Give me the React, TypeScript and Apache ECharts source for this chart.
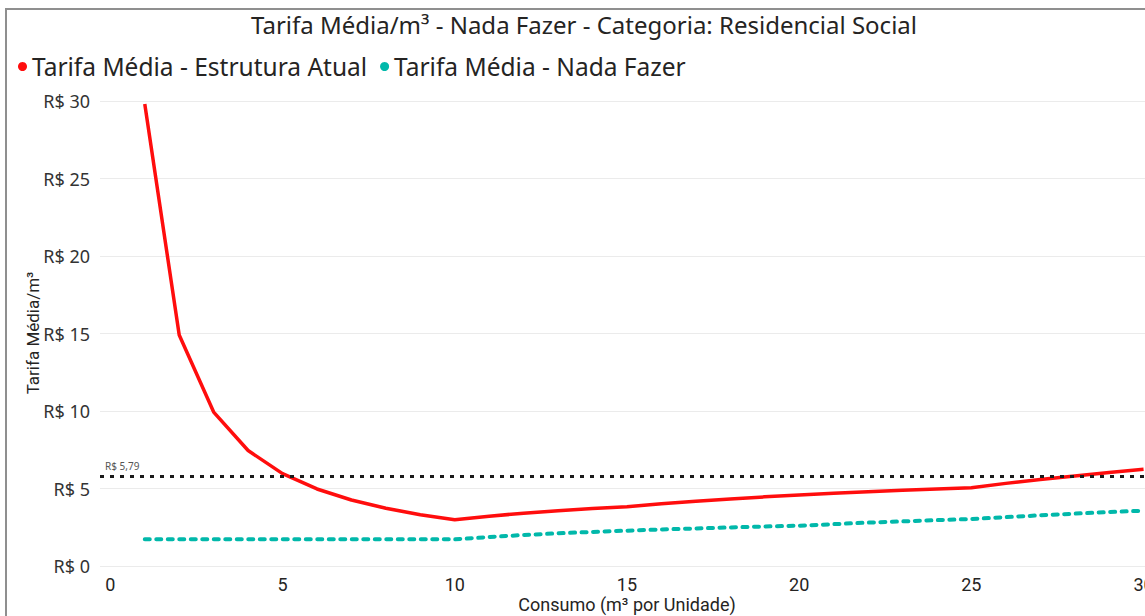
import React, { useEffect, useRef } from "react";
import * as echarts from "echarts";

const consumo = [1, 2, 3, 4, 5, 6, 7, 8, 9, 10, 11, 12, 13, 14, 15, 16, 17, 18, 19, 20, 21, 22, 23, 24, 25, 26, 27, 28, 29, 30];
const estruturaAtual = [29.8, 14.9, 9.93, 7.45, 5.96, 4.97, 4.26, 3.73, 3.31, 2.98, 3.21, 3.41, 3.57, 3.71, 3.83, 4.02, 4.18, 4.33, 4.46, 4.58, 4.69, 4.79, 4.88, 4.97, 5.05, 5.33, 5.58, 5.81, 6.03, 6.24];
const nadaFazer = [1.72, 1.72, 1.72, 1.72, 1.72, 1.72, 1.72, 1.72, 1.72, 1.72, 1.87, 2.0, 2.11, 2.2, 2.28, 2.36, 2.42, 2.49, 2.55, 2.6, 2.7, 2.8, 2.88, 2.96, 3.03, 3.15, 3.27, 3.38, 3.48, 3.57];
const referencia = 5.79;
const seriesNames = ["Tarifa Média - Estrutura Atual", "Tarifa Média - Nada Fazer"];
const titulo = "Tarifa Média/m³ - Nada Fazer - Categoria: Residencial Social";
const nomeEixoX = "Consumo (m³ por Unidade)";
const nomeEixoY = "Tarifa Média/m³";

export default function App() {
  const ref = useRef<HTMLDivElement>(null);
  useEffect(() => {
    const chart = echarts.init(ref.current!, null, { renderer: "svg" });
    chart.setOption({
      animation: false,
      backgroundColor: "#ffffff",
      grid: { left: 100, top: 101, bottom: 50, right: 22, containLabel: false },
      legend: {
        left: 18,
        top: 54,
        padding: 0,
        icon: "circle",
        itemWidth: 9,
        itemHeight: 9,
        itemGap: 13,
        textStyle: { fontSize: 24.5, fontFamily: "Noto Sans", color: "#252423" },
        data: seriesNames,
      },
      xAxis: {
        type: "value",
        min: -0.3,
        max: 31,
        splitNumber: 6,
        axisLine: { show: false },
        axisTick: { show: false },
        splitLine: { show: false },
        axisLabel: {
          showMinLabel: false,
          showMaxLabel: false,
          formatter: (v: number) => (Math.abs(v % 5) < 1e-9 ? String(v) : ""),
          fontSize: 18,
          fontFamily: "Roboto",
          color: "#252423",
          margin: 9,
        },
      },
      yAxis: {
        type: "value",
        min: 0,
        max: 30,
        interval: 5,
        axisLine: { show: false },
        axisTick: { show: false },
        splitLine: { lineStyle: { color: "#ebebeb", width: 1 } },
        axisLabel: {
          formatter: (v: number) => "R$ " + v,
          fontSize: 18,
          fontFamily: "Noto Sans",
          color: "#333333",
          margin: 10,
        },
      },
      series: [
        {
          name: seriesNames[0],
          type: "line",
          data: consumo.map((x, i) => [x, estruturaAtual[i]]),
          symbol: "none",
          itemStyle: { color: "#FF0D0D" },
          lineStyle: { color: "#FF0D0D", width: 3.5 },
          z: 3,
          markLine: {
            silent: true,
            symbol: "none",
            data: [{ yAxis: referencia }],
            lineStyle: { color: "#1a1a1a", width: 3, type: [4, 6] },
            label: {
              position: "insideStartTop",
              formatter: (p: any) => "R$ " + Number(p.value).toFixed(2).replace(".", ","),
              fontSize: 10,
              fontFamily: "Noto Sans",
              color: "#555555",
            },
          },
        },
        {
          name: seriesNames[1],
          type: "line",
          data: consumo.map((x, i) => [x, nadaFazer[i]]),
          symbol: "none",
          itemStyle: { color: "#01B8AA" },
          lineStyle: { color: "#01B8AA", width: 4, type: [5, 6.5], cap: "round" },
          z: 2,
        },
      ],
      graphic: [
        {
          type: "rect",
          silent: true,
          z: 100,
          shape: { x: 6, y: 9, width: 1400, height: 900 },
          style: { fill: "none", stroke: "#8f8f8f", lineWidth: 2 },
        },
        {
          type: "text",
          x: 584,
          y: 24,
          style: {
            text: titulo,
            fontSize: 24,
            fontFamily: "Noto Sans",
            fill: "#252423",
            align: "center",
            verticalAlign: "middle",
            textAlign: "center",
            textVerticalAlign: "middle",
          },
        },
        {
          type: "text",
          x: 627,
          y: 604,
          style: {
            text: nomeEixoX,
            fontSize: 18,
            fontFamily: "Roboto",
            fill: "#252423",
            align: "center",
            verticalAlign: "middle",
            textAlign: "center",
            textVerticalAlign: "middle",
          },
        },
        {
          type: "text",
          x: 33,
          y: 333,
          rotation: Math.PI / 2,
          style: {
            text: nomeEixoY,
            fontSize: 17,
            fontFamily: "Roboto",
            fill: "#252423",
            align: "center",
            verticalAlign: "middle",
            textAlign: "center",
            textVerticalAlign: "middle",
          },
        },
      ],
    });
    return () => chart.dispose();
  }, []);
  return (
    <div style={{ position: "fixed", left: 0, top: 0, width: 1145, height: 616, overflow: "hidden", background: "#fff" }}>
      <div ref={ref} style={{ width: 1200, height: 616 }} />
    </div>
  );
}
